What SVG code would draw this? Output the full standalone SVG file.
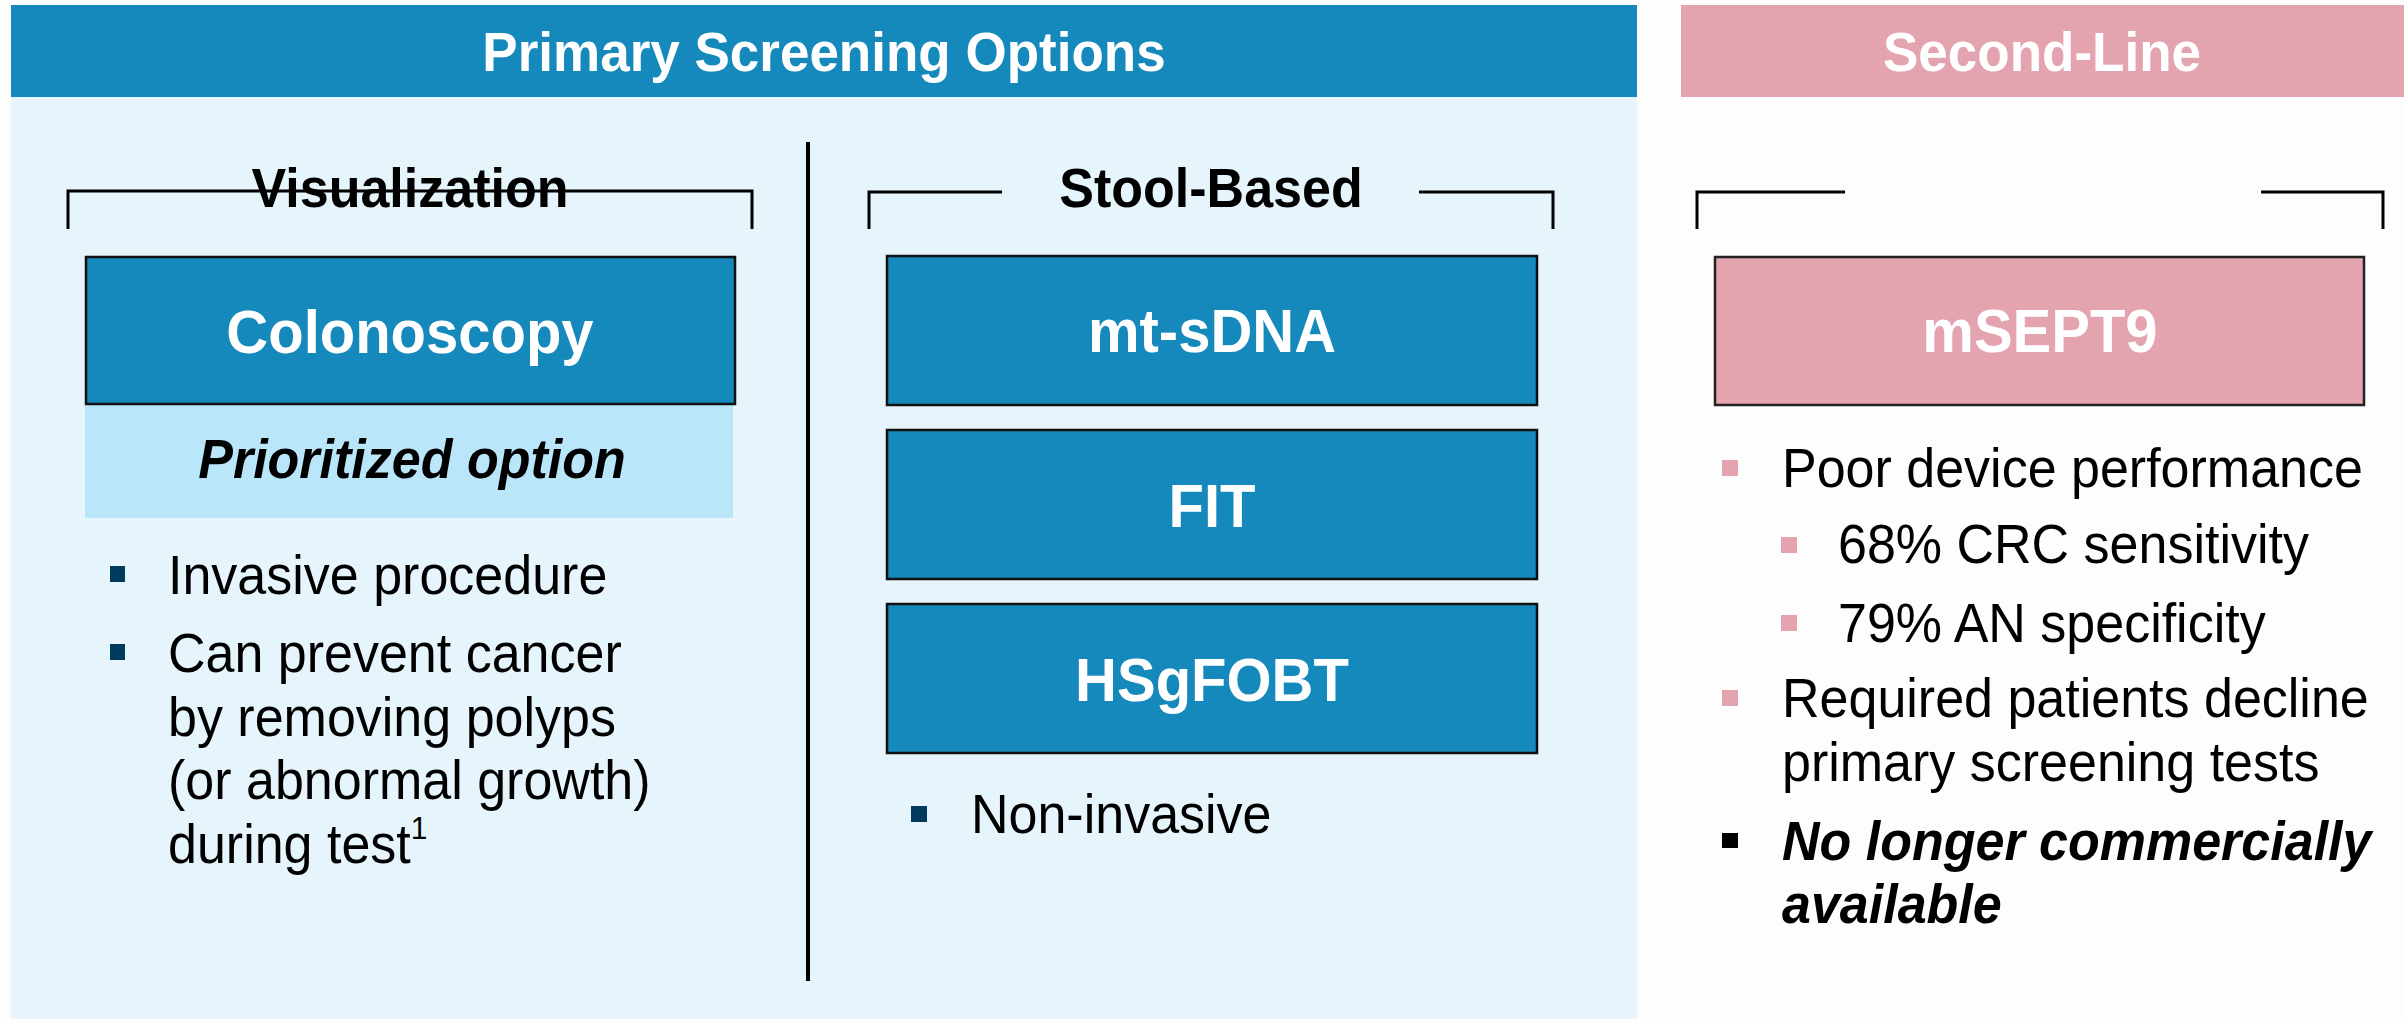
<svg xmlns="http://www.w3.org/2000/svg" width="2404" height="1019" viewBox="0 0 2404 1019">
<style>
.hdr{font-family:"Liberation Sans",Arial,sans-serif;font-weight:bold;font-size:53px;fill:#fff;text-anchor:middle}
.sub{font-family:"Liberation Sans",Arial,sans-serif;font-weight:bold;font-size:52px;fill:#000;text-anchor:middle}
.lbl{font-family:"Liberation Sans",Arial,sans-serif;font-weight:bold;font-size:58px;fill:#fff;text-anchor:middle}
.body{font-family:"Liberation Sans",Arial,sans-serif;font-size:52px;fill:#000}
.bi{font-family:"Liberation Sans",Arial,sans-serif;font-size:52px;font-weight:bold;font-style:italic;fill:#000}
.blue{fill:#1589BB;stroke:#111;stroke-width:2.5}
.pinkbox{fill:#E3A3AF;stroke:#222;stroke-width:2.5}
.br{fill:none;stroke:#000;stroke-width:3}
.nb{fill:#003A5D}
.pb{fill:#E3A3AF}
</style>
<rect x="0" y="0" width="2404" height="1019" fill="#FDFDFD"/>
<g id="primary-panel">
<rect x="11" y="97" width="1626" height="922" fill="#E6F5FC"/>
<rect x="11" y="5" width="1626" height="92" fill="#1589BB"/>
<text class="hdr" x="824" y="71" transform="matrix(1,0,0,1.06,0,-4.26)">Primary Screening Options</text>
</g>
<g id="second-line-panel">
<rect x="1681" y="5" width="723" height="92" fill="#E3A3AF"/>
<text class="hdr" x="2042" y="71" transform="matrix(1,0,0,1.06,0,-4.26)">Second-Line</text>
</g>
<g id="connectors">
<line x1="808" y1="142" x2="808" y2="981" stroke="#000" stroke-width="4"/>
<path class="br" d="M68,229 V191 H752 V229"/>
<path class="br" d="M869,229 V192 H1002 M1419,192 H1553 V229"/>
<path class="br" d="M1697,229 V192 H1845 M2261,192 H2383 V229"/>
</g>
<g id="visualization-label">
<text class="sub" x="410" y="207" transform="matrix(1,0,0,1.06,0,-12.42)">Visualization</text>
</g>
<g id="stool-label">
<text class="sub" x="1211" y="207" transform="matrix(1,0,0,1.06,0,-12.42)">Stool-Based</text>
</g>
<g id="colonoscopy">
<rect x="85" y="404" width="648" height="114" fill="#B9E6F9"/>
<rect class="blue" x="86" y="257" width="649" height="147"/>
<text class="lbl" x="410" y="353" transform="matrix(1,0,0,1.06,0,-21.18)">Colonoscopy</text>
<text class="bi" x="412" y="478" text-anchor="middle" transform="matrix(1,0,0,1.06,0,-28.68)">Prioritized option</text>
</g>
<g id="visualization-bullets">
<rect class="nb" x="110" y="566" width="15" height="16"/>
<text class="body" x="168" y="594" transform="matrix(1,0,0,1.07,0,-41.58)">Invasive procedure</text>
<rect class="nb" x="110" y="644" width="15" height="16"/>
<text class="body" x="168" y="672" transform="matrix(1,0,0,1.07,0,-47.04)">Can prevent cancer</text>
<text class="body" x="168" y="736" transform="matrix(1,0,0,1.07,0,-51.52)">by removing polyps</text>
<text class="body" x="168" y="799" transform="matrix(1,0,0,1.07,0,-55.93)">(or abnormal growth)</text>
<text class="body" x="168" y="863" transform="matrix(1,0,0,1.07,0,-60.41)">during test<tspan font-size="30" dy="-22">1</tspan></text>
</g>
<g id="mt-sdna">
<rect class="blue" x="887" y="256" width="650" height="149"/>
<text class="lbl" x="1212" y="352" transform="matrix(1,0,0,1.06,0,-21.12)">mt-sDNA</text>
</g>
<g id="fit">
<rect class="blue" x="887" y="430" width="650" height="149"/>
<text class="lbl" x="1212" y="527" transform="matrix(1,0,0,1.06,0,-31.62)">FIT</text>
</g>
<g id="hsgfobt">
<rect class="blue" x="887" y="604" width="650" height="149"/>
<text class="lbl" x="1212" y="701" transform="matrix(1,0,0,1.06,0,-42.06)">HSgFOBT</text>
</g>
<g id="stool-bullets">
<rect class="nb" x="911" y="806" width="16" height="16"/>
<text class="body" x="971" y="833" transform="matrix(1,0,0,1.07,0,-58.31)">Non-invasive</text>
</g>
<g id="msept9">
<rect class="pinkbox" x="1715" y="257" width="649" height="148"/>
<text class="lbl" x="2040" y="352" transform="matrix(1,0,0,1.06,0,-21.12)">mSEPT9</text>
</g>
<g id="second-line-bullets">
<rect class="pb" x="1722" y="460" width="16" height="16"/>
<text class="body" x="1782" y="487" transform="matrix(1,0,0,1.07,0,-34.09)">Poor device performance</text>
<rect class="pb" x="1781" y="537" width="16" height="16"/>
<text class="body" x="1838" y="563" transform="matrix(1,0,0,1.07,0,-39.41)">68% CRC sensitivity</text>
<rect class="pb" x="1781" y="615" width="16" height="16"/>
<text class="body" x="1838" y="642" transform="matrix(1,0,0,1.07,0,-44.94)">79% AN specificity</text>
<rect class="pb" x="1722" y="690" width="16" height="16"/>
<text class="body" x="1782" y="717" transform="matrix(1,0,0,1.07,0,-50.19)">Required patients decline</text>
<text class="body" x="1782" y="781" transform="matrix(1,0,0,1.07,0,-54.67)">primary screening tests</text>
<rect x="1722" y="833" width="16" height="15" fill="#000"/>
<text class="bi" x="1782" y="860" transform="matrix(1,0,0,1.07,0,-60.2)">No longer commercially</text>
<text class="bi" x="1782" y="923" transform="matrix(1,0,0,1.07,0,-64.61)">available</text>
</g>
</svg>
